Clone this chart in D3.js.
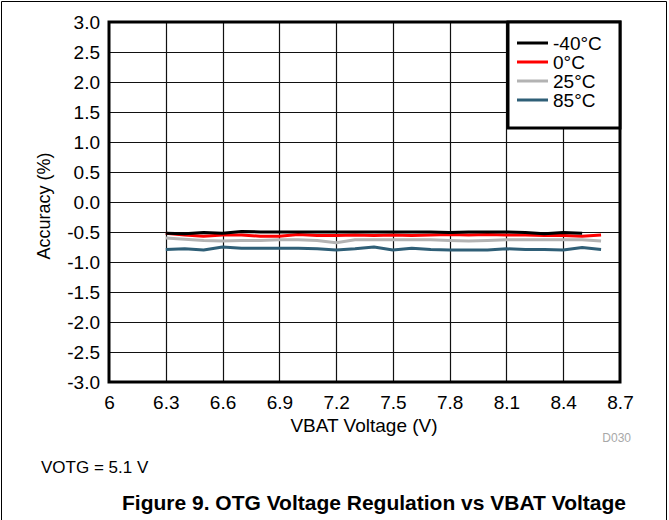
<!DOCTYPE html>
<html>
<head>
<meta charset="utf-8">
<script src="https://cdn.jsdelivr.net/npm/d3@7"></script>
<style>
  html, body { margin: 0; padding: 0; background: #fff; }
  svg { display: block; font-family: "Liberation Sans", Arial, sans-serif; }
</style>
</head>
<body>
<svg id="chart" width="669" height="520"></svg>
<script>
// ---- data ----
const vbat = [6.3, 6.4, 6.5, 6.6, 6.7, 6.8, 6.9, 7.0, 7.1, 7.2, 7.3, 7.4, 7.5, 7.6, 7.7, 7.8, 7.9, 8.0, 8.1, 8.2, 8.3, 8.4, 8.5, 8.6];
const seriesNames = ["-40°C", "0°C", "25°C", "85°C"];
const accM40 = [-0.52, -0.53, -0.51, -0.52, -0.49, -0.50, -0.50, -0.50, -0.50, -0.50, -0.50, -0.50, -0.50, -0.50, -0.50, -0.51, -0.50, -0.50, -0.50, -0.51, -0.53, -0.51, -0.52];
const acc0 = [-0.52, -0.55, -0.57, -0.55, -0.55, -0.57, -0.57, -0.54, -0.56, -0.56, -0.55, -0.56, -0.55, -0.56, -0.55, -0.54, -0.55, -0.54, -0.55, -0.55, -0.56, -0.56, -0.57, -0.55];
const acc25 = [-0.60, -0.62, -0.64, -0.65, -0.64, -0.64, -0.63, -0.63, -0.64, -0.68, -0.63, -0.63, -0.63, -0.63, -0.63, -0.64, -0.65, -0.64, -0.63, -0.63, -0.63, -0.63, -0.63, -0.65];
const acc85 = [-0.79, -0.78, -0.80, -0.75, -0.77, -0.77, -0.77, -0.77, -0.78, -0.80, -0.78, -0.75, -0.80, -0.77, -0.79, -0.80, -0.80, -0.80, -0.78, -0.79, -0.79, -0.80, -0.76, -0.79];
const xTicks = [6, 6.3, 6.6, 6.9, 7.2, 7.5, 7.8, 8.1, 8.4, 8.7];
const yTicks = [-3, -2.5, -2, -1.5, -1, -0.5, 0, 0.5, 1, 1.5, 2, 2.5, 3];
const xTitle = "VBAT Voltage (V)";
const yTitle = "Accuracy (%)";
const noteText = "VOTG = 5.1 V";
const codeText = "D030";
const figTitle = "Figure 9. OTG Voltage Regulation vs VBAT Voltage";

const colors = ["#000000", "#ff0000", "#b3b3b3", "#2f5f77"];
const seriesVals = [accM40, acc0, acc25, acc85];

// ---- layout ----
const svg = d3.select("#chart");
const L = 109, R = 620, T = 22, B = 382;
const x = d3.scaleLinear().domain([6, 8.7]).range([L, R]);
const y = d3.scaleLinear().domain([-3, 3]).range([B, T]);

// outer border
svg.append("path").attr("d", "M1.5,520 V1.5 H666.5 V520")
  .attr("fill", "none").attr("stroke", "#000").attr("stroke-width", 1);

// gridlines
const g = svg.append("g");
g.selectAll(".vg").data(xTicks.slice(1, -1)).enter().append("line")
  .attr("x1", d => Math.round(x(d)) + 0.5).attr("x2", d => Math.round(x(d)) + 0.5)
  .attr("y1", T).attr("y2", B).attr("stroke", "#111").attr("stroke-width", 1.2);
g.selectAll(".hg").data(yTicks.slice(1, -1)).enter().append("line")
  .attr("y1", d => Math.round(y(d)) + 0.5).attr("y2", d => Math.round(y(d)) + 0.5)
  .attr("x1", L).attr("x2", R).attr("stroke", "#111").attr("stroke-width", 1.2);

// axes (labels only)
const fmtX = d => String(d);
const fmtY = d => d3.format(".1f")(d).replace("\u2212", "-");
const xAxis = d3.axisBottom(x).tickValues(xTicks).tickSize(0).tickPadding(14).tickFormat(fmtX);
const yAxis = d3.axisLeft(y).tickValues(yTicks).tickSize(0).tickPadding(9).tickFormat(fmtY);
const gx = svg.append("g").attr("transform", `translate(0,${B})`).call(xAxis);
const gy = svg.append("g").attr("transform", `translate(${L},0)`).call(yAxis);
[gx, gy].forEach(a => {
  a.select(".domain").remove();
  a.selectAll("text").attr("font-size", 19).attr("fill", "#000")
    .attr("font-family", "Liberation Sans, Arial, sans-serif");
});

// series lines
const line = d3.line().x((d, i) => x(vbat[i])).y(d => y(d));
const order = [3, 2, 1, 0];
order.forEach(k => {
  svg.append("path").datum(seriesVals[k])
    .attr("d", line).attr("fill", "none")
    .attr("stroke", colors[k]).attr("stroke-width", 3)
    .attr("stroke-linejoin", "round");
});

// plot frame
svg.append("rect").attr("x", L).attr("y", T).attr("width", R - L).attr("height", B - T)
  .attr("fill", "none").attr("stroke", "#000").attr("stroke-width", 3);

// legend
const lgX = 508, lgY = T, lgW = R - lgX, lgH = 106;
svg.append("rect").attr("x", lgX).attr("y", lgY).attr("width", lgW).attr("height", lgH)
  .attr("fill", "#fff").attr("stroke", "#000").attr("stroke-width", 3);
seriesNames.forEach((name, i) => {
  const yy = lgY + 21 + i * 19;
  svg.append("line").attr("x1", lgX + 9).attr("x2", lgX + 40).attr("y1", yy).attr("y2", yy)
    .attr("stroke", colors[i]).attr("stroke-width", 3);
  svg.append("text").attr("x", lgX + 45).attr("y", yy + 6.5).text(name)
    .attr("font-size", 19).attr("fill", "#000");
});

// titles
svg.append("text").attr("x", 364).attr("y", 432).attr("text-anchor", "middle")
  .attr("font-size", 19).text(xTitle);
svg.append("text").attr("transform", `translate(50,${(T + B) / 2 + 4}) rotate(-90)`)
  .attr("text-anchor", "middle").attr("font-size", 18).text(yTitle);
svg.append("text").attr("x", 631).attr("y", 442).attr("text-anchor", "end")
  .attr("font-size", 12).attr("fill", "#a8a8a8").text(codeText);
svg.append("text").attr("x", 41).attr("y", 473).attr("font-size", 17).text(noteText);
svg.append("text").attr("x", 374).attr("y", 510).attr("text-anchor", "middle")
  .attr("font-size", 21).attr("font-weight", "bold").text(figTitle);
</script>
</body>
</html>
